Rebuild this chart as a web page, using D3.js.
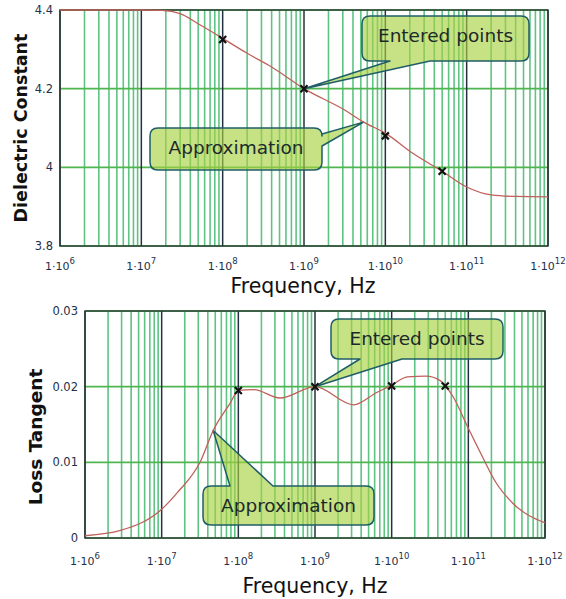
<!DOCTYPE html>
<html><head><meta charset="utf-8">
<script src="https://cdn.jsdelivr.net/npm/d3@7"></script>
<style>body{margin:0;background:#fff}svg{display:block}</style>
</head><body>
<svg id="c" width="566" height="599"></svg>
<script>
// ---- data ----
const decadeExps = [6, 7, 8, 9, 10, 11, 12];
const epsTicks = [3.8, 4.0, 4.2, 4.4];
const epsTickLabels = ["3.8", "4", "4.2", "4.4"];
const tanTicks = [0, 0.01, 0.02, 0.03];
const tanTickLabels = ["0", "0.01", "0.02", "0.03"];

// approximation curve, dielectric constant (frequency Hz, value)
const epsCurveFreq = [1e6, 1e7, 1.8e7, 3e7, 5e7, 1e8, 2e8, 4e8, 1e9, 3.2e9, 5.4e9, 1e10, 2.2e10, 5e10, 1e11, 2e11, 4e11, 1e12];
const epsCurveVal  = [4.4, 4.4, 4.399, 4.391, 4.365, 4.328, 4.29, 4.255, 4.2, 4.145, 4.115, 4.087, 4.035, 3.99, 3.95, 3.93, 3.926, 3.925];
// entered points, dielectric constant
const epsPtsFreq = [1e8, 1e9, 1e10, 5e10];
const epsPtsVal  = [4.325, 4.2, 4.08, 3.99];

// approximation curve, loss tangent
const tanCurveFreq = [1e6, 2.9e6, 1e7, 1.6e7, 3.2e7, 4.7e7, 7.8e7, 1e8, 1.6e8, 3.5e8, 1e9, 3.2e9, 6.3e9, 1e10, 1.6e10, 2.8e10, 4.3e10, 6.3e10, 1e11, 1.55e11, 2.3e11, 3.8e11, 1e12];
const tanCurveVal  = [0.0003, 0.001, 0.0038, 0.006, 0.0101, 0.0142, 0.0178, 0.0195, 0.0196, 0.0185, 0.02, 0.0176, 0.0192, 0.0202, 0.0213, 0.0214, 0.0208, 0.0187, 0.0145, 0.0106, 0.0073, 0.0046, 0.002];
// entered points, loss tangent
const tanPtsFreq = [1e8, 1e9, 1e10, 5e10];
const tanPtsVal  = [0.0195, 0.02, 0.0201, 0.0201];

// callout texts
const calloutTexts = ["Entered points", "Approximation"];

// ---- drawing ----
const svg = d3.select("#c");
const FONT = "DejaVu Sans, Verdana, sans-serif";

function panel(cfg) {
  const x = d3.scaleLog().domain([1e6, 1e12]).range([cfg.left, cfg.right]);
  const y = d3.scaleLinear().domain(cfg.yDomain).range([cfg.bottom, cfg.top]);
  const g = svg.append("g");

  // minor vertical grid
  const minors = [];
  decadeExps.slice(0, -1).forEach(e => { for (let k = 2; k <= 9; k++) minors.push(k * Math.pow(10, e)); });
  g.selectAll(".minor").data(minors).enter().append("line")
    .attr("x1", d => x(d)).attr("x2", d => x(d))
    .attr("y1", cfg.top).attr("y2", cfg.bottom)
    .attr("stroke", "#5fc384").attr("stroke-width", 1.6);
  // horizontal grid
  g.selectAll(".hg").data(cfg.yTicks).enter().append("line")
    .attr("x1", cfg.left).attr("x2", cfg.right)
    .attr("y1", d => y(d)).attr("y2", d => y(d))
    .attr("stroke", "#4fb54f").attr("stroke-width", 1.6);
  // decade lines
  g.selectAll(".dec").data(decadeExps.map(e => Math.pow(10, e))).enter().append("line")
    .attr("x1", d => x(d)).attr("x2", d => x(d))
    .attr("y1", cfg.top).attr("y2", cfg.bottom)
    .attr("stroke", "#23303f").attr("stroke-width", 1.5);
  // frame
  g.append("rect").attr("x", cfg.left).attr("y", cfg.top)
    .attr("width", cfg.right - cfg.left).attr("height", cfg.bottom - cfg.top)
    .attr("fill", "none").attr("stroke", "#2b3f36").attr("stroke-width", 1.5);

  // callouts
  cfg.callouts.forEach(c => drawCallout(g, c, x, y));

  // curve
  const line = d3.line().x(d => x(d[0])).y(d => y(d[1])).curve(d3.curveMonotoneX);
  g.append("path").datum(d3.zip(cfg.cFreq, cfg.cVal)).attr("d", line)
    .attr("fill", "none").attr("stroke", "#c0605a").attr("stroke-width", 1.3);
  // markers
  const pts = d3.zip(cfg.pFreq, cfg.pVal);
  const s = 3.5;
  g.selectAll(".pt").data(pts).enter().append("path")
    .attr("d", d => { const px = x(d[0]), py = y(d[1]);
      return `M${px - s},${py - s}L${px + s},${py + s}M${px - s},${py + s}L${px + s},${py - s}`; })
    .attr("stroke", "#111").attr("stroke-width", 2.2).attr("fill", "none");

  // x tick labels
  const xl = g.selectAll(".xl").data(decadeExps).enter().append("text")
    .attr("x", d => x(Math.pow(10, d))).attr("y", cfg.bottom + cfg.xlOff)
    .attr("text-anchor", "middle").attr("font-family", FONT).attr("font-size", 11)
    .attr("fill", "#23304a");
  xl.append("tspan").text("1\u00b710");
  xl.append("tspan").attr("dy", -6).attr("font-size", 8.5).text(d => d);
  // y tick labels
  g.selectAll(".yl").data(cfg.yTicks).enter().append("text")
    .attr("x", cfg.left - 7).attr("y", d => y(d)).attr("dy", "0.35em")
    .attr("text-anchor", "end").attr("font-family", FONT).attr("font-size", 11.5)
    .attr("fill", "#23304a").text((d, i) => cfg.yLabels[i]);
  // axis titles
  g.append("text").attr("transform", `translate(${cfg.ytX},${cfg.ytY}) rotate(-90)`)
    .attr("text-anchor", "middle").attr("font-family", FONT).attr("font-weight", "bold")
    .attr("font-size", cfg.ytSize).attr("fill", "#111").text(cfg.yTitle);
  g.append("text").attr("x", cfg.xtX).attr("y", cfg.xtY)
    .attr("text-anchor", "middle").attr("font-family", FONT)
    .attr("font-size", 20.5).attr("fill", "#111").text("Frequency, Hz");
}

function drawCallout(g, c, x, y) {
  const tx = x(c.tip[0]), ty = y(c.tip[1]);
  const { x0, y0, x1, y1 } = c.box, r = 8;
  let p = `M${x0 + r},${y0}`;
  if (c.side === "top") p += `L${c.a},${y0}L${tx},${ty}L${c.b},${y0}`;
  p += `L${x1 - r},${y0}Q${x1},${y0} ${x1},${y0 + r}`;
  if (c.side === "right") p += `L${x1},${c.a}L${tx},${ty}L${x1},${c.b}`;
  p += `L${x1},${y1 - r}Q${x1},${y1} ${x1 - r},${y1}`;
  if (c.side === "bottom") p += `L${c.b},${y1}L${tx},${ty}L${c.a},${y1}`;
  p += `L${x0 + r},${y1}Q${x0},${y1} ${x0},${y1 - r}L${x0},${y0 + r}Q${x0},${y0} ${x0 + r},${y0}Z`;
  g.append("path").attr("d", p).attr("fill", "#a8d040").attr("fill-opacity", 0.64)
    .attr("stroke", "#1f5e66").attr("stroke-width", 1.5).attr("stroke-linejoin", "round");
  g.append("text").attr("x", (x0 + x1) / 2).attr("y", y0 + 26)
    .attr("text-anchor", "middle").attr("font-family", FONT).attr("font-size", 18.5)
    .attr("fill", "#1c2a2a").text(c.text);
}

panel({
  left: 60, right: 548, top: 10, bottom: 246,
  yDomain: [3.8, 4.4], yTicks: epsTicks, yLabels: epsTickLabels,
  cFreq: epsCurveFreq, cVal: epsCurveVal, pFreq: epsPtsFreq, pVal: epsPtsVal,
  yTitle: "Dielectric Constant", ytX: 27, ytY: 128, ytSize: 17.5,
  xtX: 303, xtY: 293, xlOff: 24,
  callouts: [
    { text: calloutTexts[0], box: { x0: 362, y0: 16, x1: 529, y1: 61 }, side: "bottom", a: 390, b: 430, tip: [epsPtsFreq[1], epsPtsVal[1]] },
    { text: calloutTexts[1], box: { x0: 150, y0: 128, x1: 322, y1: 170 }, side: "right", a: 134, b: 146, tip: [epsCurveFreq[10], epsCurveVal[10]] }
  ]
});

panel({
  left: 85, right: 545, top: 311, bottom: 538,
  yDomain: [0, 0.03], yTicks: tanTicks, yLabels: tanTickLabels,
  cFreq: tanCurveFreq, cVal: tanCurveVal, pFreq: tanPtsFreq, pVal: tanPtsVal,
  yTitle: "Loss Tangent", ytX: 42, ytY: 437, ytSize: 18.5,
  xtX: 315, xtY: 593, xlOff: 27,
  callouts: [
    { text: calloutTexts[0], box: { x0: 331, y0: 319, x1: 503, y1: 359 }, side: "bottom", a: 360, b: 402, tip: [tanPtsFreq[1], tanPtsVal[1]] },
    { text: calloutTexts[1], box: { x0: 203, y0: 486, x1: 374, y1: 525 }, side: "top", a: 230, b: 273, tip: [tanCurveFreq[5], tanCurveVal[5]] }
  ]
});
</script>
</body></html>
